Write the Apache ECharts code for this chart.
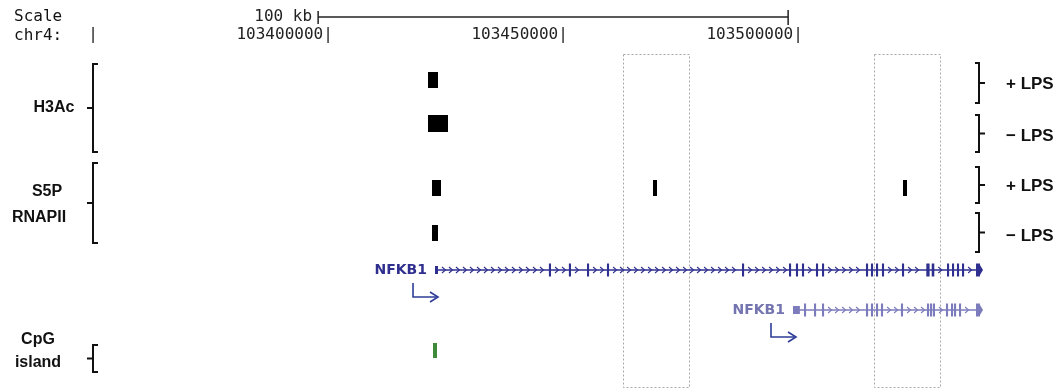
<!DOCTYPE html>
<html><head><meta charset="utf-8">
<script src="https://cdn.jsdelivr.net/npm/echarts@6/dist/echarts.min.js"></script>
<style>html,body{margin:0;padding:0;background:#fff}#c{width:1064px;height:390px}</style>
</head><body><div id="c"></div>
<script>
// ---------- data (genomic coordinates, chr4, bp) ----------
const viewRange = [103350000, 103550000];
const tickInterval = 50000;
const scaleBarBp = [103397900, 103497900];          // 100 kb
const scaleBarLabel = '100 kb';
const trackNames = ['H3Ac', 'S5P\nRNAPII', 'CpG\nisland'];
const conditionLabels = ['+ LPS', '\u2212 LPS', '+ LPS', '\u2212 LPS'];
// peaks: [row, start, end]  rows: 0 H3Ac+LPS, 1 H3Ac-LPS, 2 S5P+LPS, 3 S5P-LPS
const peaks = [
  [0, 103421277, 103423404],
  [1, 103421277, 103425532],
  [2, 103422128, 103424043],
  [2, 103469149, 103470000],
  [2, 103522340, 103523191],
  [3, 103422128, 103423404]
];
const cpgIslands = [[103422340, 103423191]];
const highlightRegions = [[103462766, 103476809], [103516170, 103530213]];
const geneNames = ['NFKB1', 'NFKB1'];
const geneSpans = [[103422770, 103538720], [103498936, 103538720]];
// exons: [start, end, type]  u = UTR (thin), c = coding
const gene1Exons = [
  [103422770, 103423400, 'u'], [103447000, 103447450, 'c'], [103451250, 103451700, 'c'],
  [103455100, 103455550, 'c'], [103459350, 103459800, 'c'], [103488080, 103488530, 'c'],
  [103498080, 103498530, 'c'], [103499560, 103500010, 'c'], [103500840, 103501290, 'c'],
  [103503820, 103504270, 'c'], [103505100, 103505550, 'c'], [103514460, 103514910, 'c'],
  [103515520, 103515970, 'c'], [103516590, 103517040, 'c'], [103517860, 103518310, 'c'],
  [103522120, 103522570, 'c'], [103527300, 103528000, 'c'], [103528450, 103529000, 'c'],
  [103531700, 103532150, 'c'], [103532760, 103533210, 'c'], [103533820, 103534270, 'c'],
  [103534890, 103535340, 'c'], [103537870, 103538720, 'c']
];
const gene2Exons = [
  [103498936, 103500400, 'u'], [103501270, 103501720, 'c'], [103503400, 103503850, 'c'],
  [103505100, 103505550, 'c'], [103514460, 103514910, 'c'], [103515520, 103515970, 'c'],
  [103516590, 103517040, 'c'], [103517650, 103518100, 'c'], [103521900, 103522350, 'c'],
  [103527440, 103527890, 'c'], [103528080, 103528530, 'c'], [103528700, 103529150, 'c'],
  [103531480, 103531930, 'c'], [103532550, 103533000, 'c'], [103533190, 103533640, 'c'],
  [103534250, 103534700, 'c'], [103537870, 103538720, 'c']
];
const geneExons = [gene1Exons, gene2Exons];

// ---------- layout / style (pixels) ----------
const L = {
  peakRows: [[72, 88], [115, 132], [180, 196], [225, 241]],
  cpgRow: [343, 358],
  geneY: [270, 310],
  geneColor: ['#2f2f8f', '#7c7cbc'],
  geneLabelColor: ['#2f2f8f', '#7474b0'],
  arrowColor: '#2f3d98',
  highlightY: [54, 387],
  scaleY: 17,
  leftBrackets: [[64, 152], [163, 243], [345, 372]],
  rightBrackets: [[63, 103], [115, 152], [167, 203], [213, 252]],
  labelY: [84, 136, 186, 236]
};
const MONO = '"DejaVu Sans Mono","Liberation Mono",monospace';
const SANS = '"Liberation Sans",Arial,sans-serif';

const chart = echarts.init(document.getElementById('c'));

function peakItem(params, api) {
  const r = L.peakRows[api.value(0)];
  const a = api.coord([api.value(1), r[0]]);
  const b = api.coord([api.value(2), r[1]]);
  return {type: 'rect', shape: {x: a[0], y: a[1], width: Math.max(b[0] - a[0], 3), height: b[1] - a[1]},
    style: {fill: '#000'}};
}
function cpgItem(params, api) {
  const a = api.coord([api.value(0), L.cpgRow[0]]);
  const b = api.coord([api.value(1), L.cpgRow[1]]);
  return {type: 'rect', shape: {x: a[0], y: a[1], width: Math.max(b[0] - a[0], 3), height: b[1] - a[1]},
    style: {fill: '#3f8a3a'}};
}
function boxItem(params, api) {
  const a = api.coord([api.value(0), L.highlightY[0]]);
  const b = api.coord([api.value(1), L.highlightY[1]]);
  return {type: 'rect', shape: {x: Math.round(a[0]) + 0.5, y: a[1] + 0.5, width: Math.round(b[0] - a[0]), height: b[1] - a[1]},
    style: {fill: 'none', stroke: '#a8a8a8', lineWidth: 1, lineDash: [2, 2]}};
}
function scaleItem(params, api) {
  const a = api.coord([api.value(0), L.scaleY]);
  const b = api.coord([api.value(1), L.scaleY]);
  const y = a[1];
  return {type: 'group', children: [
    {type: 'line', shape: {x1: a[0], y1: y, x2: b[0], y2: y}, style: {stroke: '#222', lineWidth: 1.5}},
    {type: 'line', shape: {x1: a[0], y1: y - 6, x2: a[0], y2: y + 7}, style: {stroke: '#222', lineWidth: 1.5}},
    {type: 'line', shape: {x1: b[0], y1: y - 7, x2: b[0], y2: y + 8}, style: {stroke: '#222', lineWidth: 1.5}},
    {type: 'text', x: a[0] - 6, y: y, style: {text: scaleBarLabel, font: '16px ' + MONO, fill: '#222',
      align: 'right', verticalAlign: 'middle', textAlign: 'right', textVerticalAlign: 'middle'}}
  ]};
}
function geneItem(params, api) {
  const gi = api.value(0);
  const yc = L.geneY[gi], col = L.geneColor[gi];
  const px = bp => api.coord([bp, yc])[0];
  const span = geneSpans[gi];
  const x0 = px(span[0]), x1 = px(span[1]);
  const ch = [];
  ch.push({type: 'line', shape: {x1: x0, y1: yc, x2: x1, y2: yc}, style: {stroke: col, lineWidth: 1.5}});
  const ex = geneExons[gi].map(e => [px(e[0]), px(e[1]), e[2]]);
  let prev = ex[0][1];
  for (let i = 1; i < ex.length; i++) {
    const a = ex[i][0];
    for (let x = prev + 4; x + 3.5 < a - 2; x += 7) {
      ch.push({type: 'polyline', shape: {points: [[x, yc - 3], [x + 3.5, yc], [x, yc + 3]]},
        style: {stroke: col, lineWidth: 1.1, fill: 'none'}});
    }
    prev = ex[i][1];
  }
  ex.forEach((e) => {
    const h = e[2] === 'u' ? 4 : 6.5;
    const w = Math.max(e[1] - e[0], 2);
    ch.push({type: 'rect', shape: {x: e[0], y: yc - h, width: w, height: 2 * h}, style: {fill: col}});
  });
  const last = ex[ex.length - 1];
  ch.push({type: 'polygon', shape: {points: [[last[1], yc - 5], [last[1] + 3, yc], [last[1], yc + 5]]}, style: {fill: col}});
  ch.push({type: 'text', x: x0 - 8, y: yc, style: {text: geneNames[gi], font: 'bold 14px "DejaVu Sans",sans-serif',
    fill: L.geneLabelColor[gi], align: 'right', verticalAlign: 'middle', textAlign: 'right', textVerticalAlign: 'middle'}});
  const top = yc + 13, bot = yc + 27, vx = x0 - 22, hx = x0 + 3;
  ch.push({type: 'polyline', shape: {points: [[vx, top], [vx, bot], [hx, bot]]}, style: {stroke: L.arrowColor, lineWidth: 1.6, fill: 'none'}});
  ch.push({type: 'polyline', shape: {points: [[hx - 8, bot - 5], [hx, bot], [hx - 8, bot + 5]]}, style: {stroke: L.arrowColor, lineWidth: 1.6, fill: 'none'}});
  return {type: 'group', children: ch};
}

// graphic: labels & brackets
const g = [];
function txt(text, x, y, font, align) {
  g.push({type: 'text', x: x, y: y, style: {text: text, font: font, fill: '#111', align: align || 'left', verticalAlign: 'middle',
    textAlign: align || 'left', textVerticalAlign: 'middle'}});
}
txt('Scale', 14, L.scaleY, '16px ' + MONO);
txt('chr4:', 14, 36, '16px ' + MONO);
const LB = 'bold 16px ' + SANS;
txt(trackNames[0], 54, 108, LB, 'center');
txt(trackNames[1].split('\n')[0], 47, 192, LB, 'center');
txt(trackNames[1].split('\n')[1], 39, 218, LB, 'center');
txt(trackNames[2].split('\n')[0], 38, 340, LB, 'center');
txt(trackNames[2].split('\n')[1], 38, 363, LB, 'center');
conditionLabels.forEach((t, i) => txt(t, 1006, L.labelY[i], 'bold 17px ' + SANS));
L.leftBrackets.forEach(([a, b]) => {
  const m = (a + b) / 2;
  g.push({type: 'polyline', shape: {points: [[98, a], [93, a], [93, b], [98, b]]}, style: {stroke: '#111', lineWidth: 2, fill: 'none'}});
  g.push({type: 'line', shape: {x1: 87, y1: m, x2: 93, y2: m}, style: {stroke: '#111', lineWidth: 2}});
});
L.rightBrackets.forEach(([a, b]) => {
  const m = (a + b) / 2;
  g.push({type: 'polyline', shape: {points: [[975, a], [979, a], [979, b], [975, b]]}, style: {stroke: '#111', lineWidth: 2, fill: 'none'}});
  g.push({type: 'line', shape: {x1: 979, y1: m, x2: 985, y2: m}, style: {stroke: '#111', lineWidth: 2}});
});

chart.setOption({
  animation: false,
  grid: [
    {left: 93, right: 31, top: 0, bottom: 0},
    {left: 97.8, right: 26.2, top: 44, height: 1}
  ],
  xAxis: [
    {type: 'value', gridIndex: 0, min: viewRange[0], max: viewRange[1], show: false},
    {type: 'value', gridIndex: 1, min: viewRange[0], max: viewRange[1], interval: tickInterval, position: 'top',
      axisLine: {show: false}, axisTick: {show: false}, splitLine: {show: false},
      axisLabel: {show: true, margin: 1, color: '#222', fontSize: 16, fontFamily: MONO, align: 'right',
        showMinLabel: true, showMaxLabel: true,
        formatter: v => v === viewRange[0] ? '|' : (v >= viewRange[1] ? '' : v + '|')}}
  ],
  yAxis: [
    {type: 'value', gridIndex: 0, min: 0, max: 390, inverse: true, show: false},
    {type: 'value', gridIndex: 1, min: 0, max: 1, show: false}
  ],
  graphic: g,
  series: [
    {type: 'custom', xAxisIndex: 0, yAxisIndex: 0, renderItem: boxItem, data: highlightRegions, clip: false, z: 1},
    {type: 'custom', xAxisIndex: 0, yAxisIndex: 0, renderItem: scaleItem, data: [scaleBarBp], clip: false},
    {type: 'custom', xAxisIndex: 0, yAxisIndex: 0, renderItem: peakItem, data: peaks, clip: false},
    {type: 'custom', xAxisIndex: 0, yAxisIndex: 0, renderItem: cpgItem, data: cpgIslands, clip: false},
    {type: 'custom', xAxisIndex: 0, yAxisIndex: 0, renderItem: geneItem, data: [[0], [1]], clip: false}
  ]
});
</script></body></html>
